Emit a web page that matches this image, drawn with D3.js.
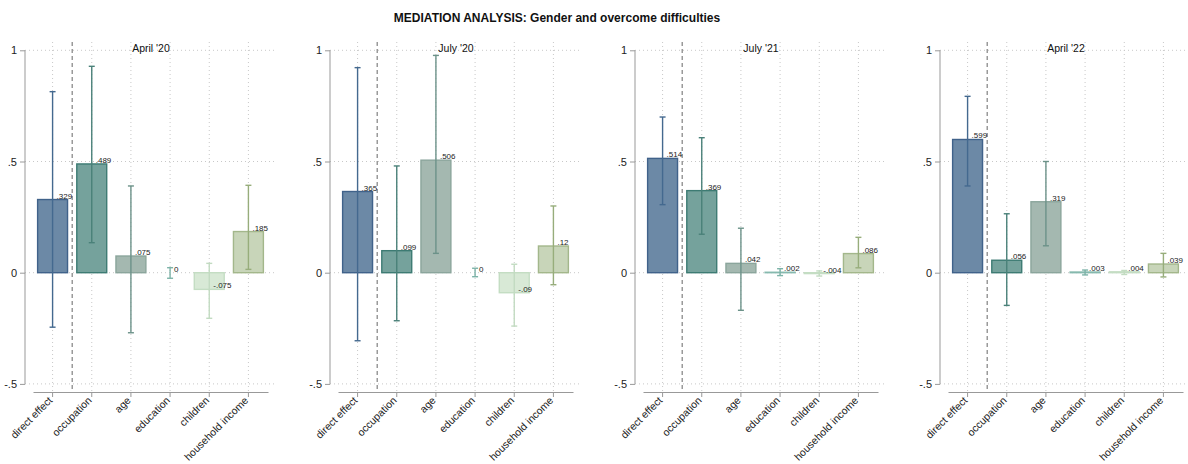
<!DOCTYPE html>
<html>
<head>
<meta charset="utf-8">
<script src="https://cdn.jsdelivr.net/npm/d3@7"></script>
<style>
  html, body { margin: 0; padding: 0; background: #fff; }
  svg { display: block; font-family: "Liberation Sans", Arial, Helvetica, sans-serif; }
</style>
</head>
<body>
<svg id="chart" width="1188" height="464"></svg>
<script>
// ---- data ----
const chartTitle = "MEDIATION ANALYSIS: Gender and overcome difficulties";
const categories = ["direct effect", "occupation", "age", "education", "children", "household income"];
const waves = ["April '20", "July '20", "July '21", "April '22"];
const yTicks = [-0.5, 0, 0.5, 1];
const yTickLabels = ["-.5", "0", ".5", "1"];
const estApr20 = [0.329, 0.489, 0.075, 0, -0.075, 0.185];
const estJul20 = [0.365, 0.099, 0.506, 0, -0.09, 0.12];
const estJul21 = [0.514, 0.369, 0.042, 0.002, -0.004, 0.086];
const estApr22 = [0.599, 0.056, 0.319, 0.003, 0.004, 0.039];
const lowApr20 = [-0.245, 0.135, -0.27, -0.025, -0.205, 0.015];
const lowJul20 = [-0.306, -0.216, 0.087, -0.018, -0.24, -0.054];
const lowJul21 = [0.306, 0.173, -0.169, -0.013, -0.015, 0.022];
const lowApr22 = [0.39, -0.147, 0.121, -0.01, -0.008, -0.019];
const highApr20 = [0.814, 0.928, 0.39, 0.0225, 0.042, 0.393];
const highJul20 = [0.922, 0.48, 0.977, 0.02, 0.038, 0.30];
const highJul21 = [0.70, 0.607, 0.20, 0.018, 0.008, 0.159];
const highApr22 = [0.793, 0.265, 0.50, 0.012, 0.01, 0.087];

const estimates = [estApr20, estJul20, estJul21, estApr22];
const lows = [lowApr20, lowJul20, lowJul21, lowApr22];
const highs = [highApr20, highJul20, highJul21, highApr22];

// ---- styles ----
const fillColors   = ["#6c89a6", "#75a29c", "#a4b8b0", "#a9cfc7", "#d8e9d6", "#c8d5b9"];
const strokeColors = ["#40628a", "#3d7b73", "#8ba59c", "#86b9ae", "#c4ddc3", "#a3b78b"];
const errColors    = ["#44698f", "#4a8179", "#6c9289", "#7db3a8", "#c2dbc1", "#97ad7b"];

const svg = d3.select("#chart");
const fmt = v => String(v).replace(/^(-?)0\./, "$1.");

svg.append("text")
  .attr("x", 557).attr("y", 21.5)
  .attr("text-anchor", "middle")
  .attr("font-size", 12).attr("font-weight", "bold").attr("fill", "#111")
  .text(chartTitle);

const panelStep = 305;
const plotTop = 42, plotBottom = 392;

waves.forEach((wave, i) => {
  const ox = 25 + panelStep * i;
  const g = svg.append("g");
  const y = d3.scaleLinear().domain([-0.5, 1]).range([383.9, 50.3]);
  const x = d3.scaleBand().domain(categories).range([ox + 8, ox + 243])
    .paddingInner(0.2).paddingOuter(0.1);
  const cx = c => x(c) + x.bandwidth() / 2;

  // horizontal grid
  g.selectAll(".hg").data(yTicks).join("line")
    .attr("x1", ox).attr("x2", ox + 252)
    .attr("y1", d => y(d)).attr("y2", d => y(d))
    .attr("stroke", "#c8c8c8").attr("stroke-width", 1)
    .attr("stroke-dasharray", "1,3");
  // vertical grid
  g.selectAll(".vg").data(categories).join("line")
    .attr("x1", d => cx(d)).attr("x2", d => cx(d))
    .attr("y1", plotTop).attr("y2", plotBottom)
    .attr("stroke", "#c8c8c8").attr("stroke-width", 1)
    .attr("stroke-dasharray", "1,3");

  // y axis
  const yAxis = d3.axisLeft(y).tickValues(yTicks)
    .tickFormat((d, k) => yTickLabels[k]).tickSize(5).tickPadding(3);
  const ya = g.append("g").attr("transform", `translate(${ox},0)`).call(yAxis);
  ya.select(".domain").attr("stroke", "#999").attr("d", `M0,${y(1)}V${y(-0.5)}`);
  ya.selectAll(".tick line").attr("stroke", "#999");
  ya.selectAll(".tick text").attr("font-size", 11).attr("fill", "#222")
    .attr("font-family", "'Liberation Sans', Arial, sans-serif");

  // x axis
  const xAxis = d3.axisBottom(x).tickSize(5).tickSizeOuter(0).tickPadding(2);
  const xa = g.append("g").attr("transform", `translate(0,${plotBottom})`).call(xAxis);
  xa.select(".domain").attr("stroke", "#999");
  xa.selectAll(".tick line").attr("stroke", "#999");
  xa.selectAll(".tick text")
    .attr("font-size", 10.5).attr("fill", "#222")
    .attr("font-family", "'Liberation Sans', Arial, sans-serif")
    .attr("text-anchor", "end")
    .attr("transform", "translate(-5,3.5) rotate(-45)")
    .attr("y", 0).attr("x", 0).attr("dy", "0.75em");

  // dashed separator
  const sepX = cx(categories[0]) + x.step() / 2;
  g.append("line")
    .attr("x1", sepX).attr("x2", sepX).attr("y1", plotTop).attr("y2", plotBottom)
    .attr("stroke", "#666").attr("stroke-width", 1).attr("stroke-dasharray", "4,3");

  const rows = categories.map((c, k) => ({
    c, k, v: estimates[i][k], lo: lows[i][k], hi: highs[i][k]
  }));

  // bars
  g.selectAll(".bar").data(rows).join("rect")
    .attr("x", d => x(d.c) + 0.7)
    .attr("width", x.bandwidth() - 1.4)
    .attr("y", d => Math.min(y(d.v), y(0)))
    .attr("height", d => Math.abs(y(d.v) - y(0)))
    .attr("fill", d => fillColors[d.k])
    .attr("stroke", d => strokeColors[d.k]).attr("stroke-width", 1.4);

  // error bars
  const eb = g.selectAll(".eb").data(rows).join("g")
    .attr("stroke", d => errColors[d.k]).attr("stroke-width", 1.4).attr("fill", "none");
  eb.append("line")
    .attr("x1", d => cx(d.c)).attr("x2", d => cx(d.c))
    .attr("y1", d => y(d.lo)).attr("y2", d => y(d.hi));
  eb.append("line")
    .attr("x1", d => cx(d.c) - 3).attr("x2", d => cx(d.c) + 3)
    .attr("y1", d => y(d.lo)).attr("y2", d => y(d.lo));
  eb.append("line")
    .attr("x1", d => cx(d.c) - 3).attr("x2", d => cx(d.c) + 3)
    .attr("y1", d => y(d.hi)).attr("y2", d => y(d.hi));

  // value labels
  g.selectAll(".vl").data(rows).join("text")
    .attr("x", d => cx(d.c) + 4)
    .attr("y", d => y(d.v) - 1)
    .attr("font-size", 8).attr("fill", "#222")
    .text(d => fmt(d.v));

  // panel title
  g.append("text")
    .attr("x", ox + 126).attr("y", 52)
    .attr("text-anchor", "middle")
    .attr("font-size", 10.5).attr("fill", "#111")
    .text(wave);
});
</script>
</body>
</html>
